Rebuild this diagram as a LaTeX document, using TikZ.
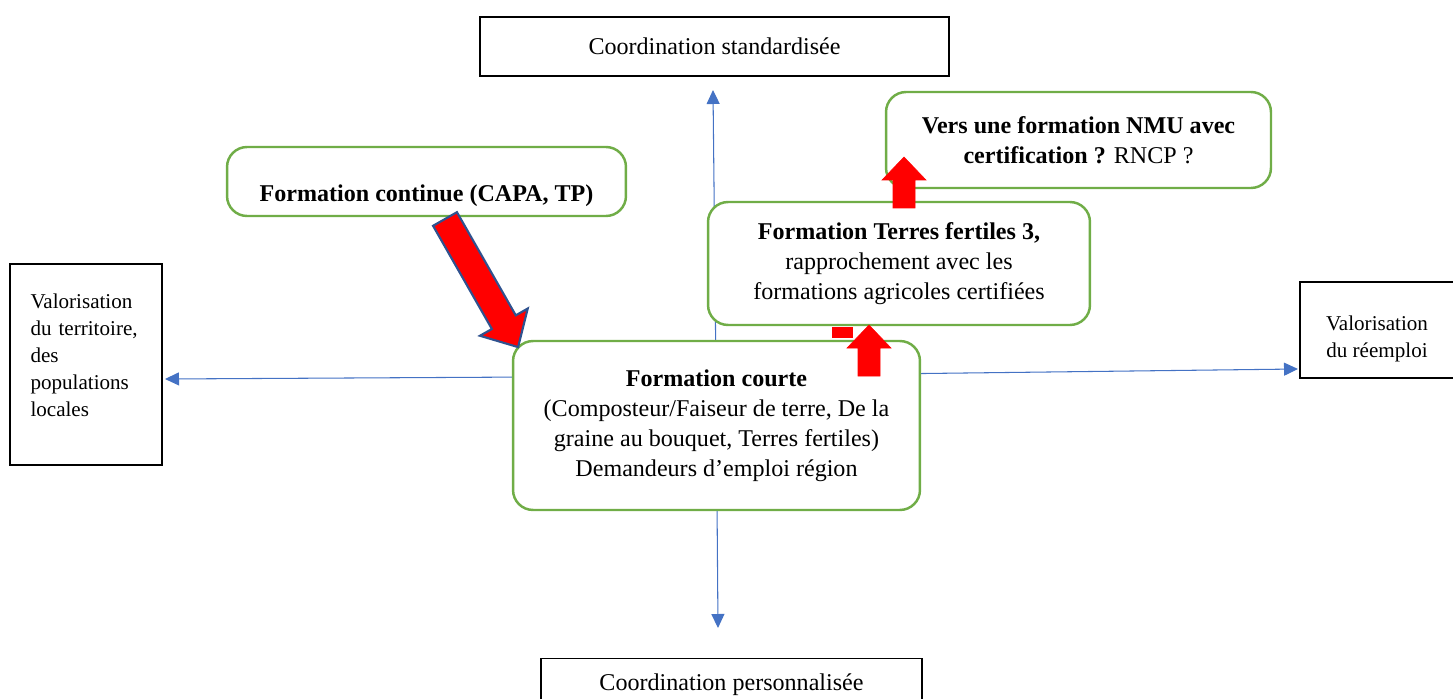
\documentclass[tikz,border=0pt]{standalone}
\usepackage{fontspec}
\setmainfont{Liberation Serif}
\usetikzlibrary{arrows.meta}
\usetikzlibrary{positioning}
\definecolor{vertbord}{HTML}{70AD47}
\definecolor{bleuaxe}{HTML}{4472C4}
\definecolor{bleucontour}{HTML}{2F528F}
\newcommand{\fleche}[2]{\draw[#2] (0,-11) -- (#1-23,-11) -- (#1-23,-22) -- (#1,0) -- (#1-23,22) -- (#1-23,11) -- (0,11) -- cycle;}
\tikzset{
	grand/.style={font=\fontsize{13.7}{17.1}\selectfont, align=center},
	petit/.style={font=\fontsize{12}{15.4}\selectfont},
	cadre/.style={draw=black, line width=0.7pt, fill=white, inner sep=0pt},
	arrondi/.style={draw=vertbord, line width=1.4pt, rounded corners=0.4cm, fill=white, inner sep=0pt},
	axe/.style={draw=bleuaxe, line width=0.6pt, -{Triangle[length=0.28cm,width=0.26cm]}},
	rouge/.style={fill=red, draw=red, line width=0.3pt},
	rougebord/.style={fill=red, draw=bleucontour, line width=1.2pt}
}

\begin{document}
\begin{tikzpicture}[x=0.02cm, y=-0.02cm]
					\useasboundingbox (0,0) rectangle (1453,699);

					\coordinate (centre) at (716,376);
					\coordinate (haut) at (713,90);
					\coordinate (bas) at (718,628);
					\coordinate (gauche) at (165,379);
					\coordinate (droite) at (1298,369);

					\draw[axe] (centre) -- (haut);
					\draw[axe] (centre) -- (bas);
					\draw[axe] (centre) -- (gauche);
					\draw[axe] (centre) -- (droite);

					\node[cadre, grand, minimum width=9.38cm, minimum height=1.18cm] (std) at (714.5,46.5) {Coordination standardisée};
					\node[cadre, grand, minimum width=7.62cm, minimum height=1.04cm, anchor=north] (pers) at (731.5,658) {Coordination personnalisée};
					\node[cadre, petit, minimum width=3.04cm, minimum height=4.02cm, text width=2.22cm, align=left] (valterr) at (86,364.5) {Valorisation\\\makebox[\linewidth][s]{du territoire,}\\des\\populations\\locales\rule[-11pt]{0pt}{11pt}};
					\node[cadre, petit, align=center, minimum width=3.08cm, minimum height=1.92cm] (valreem) at (1377,330) {\rule{0pt}{18pt}Valorisation\\du réemploi};

					\node[arrondi, grand, minimum width=7.98cm, minimum height=1.38cm] (continue) at (426.5,181.5) {\rule{0pt}{0.91cm}\textbf{Formation continue (CAPA, TP)}};
					\node[arrondi, grand, minimum width=7.70cm, minimum height=1.92cm] (nmu) at (1078.5,140) {\textbf{Vers une formation NMU avec}\\\textbf{certification ?} RNCP ?};
					\node[arrondi, grand, minimum width=7.64cm, minimum height=2.46cm] (tf3) at (899,263.5) {\textbf{Formation Terres fertiles 3,}\\rapprochement avec les\\formations agricoles certifiées};
					\node[arrondi, grand, minimum width=8.14cm, minimum height=3.38cm] (courte) at (716.5,425.5) {\textbf{Formation courte}\\(Composteur/Faiseur de terre, De la\\graine au bouquet, Terres fertiles)\\Demandeurs d’emploi région};

					\begin{scope}[shift={(445,219)}, rotate=-60.3, scale=1.25]
						\fleche{118}{rougebord}
					\end{scope}

					\begin{scope}[shift={(904,208)}, rotate=90]
						\fleche{51}{rouge}
					\end{scope}

					\begin{scope}[shift={(869,376)}, rotate=90]
						\fleche{51}{rouge}
					\end{scope}

					\fill[red] (832,327) rectangle (853,338);

\end{tikzpicture}
\end{document}
